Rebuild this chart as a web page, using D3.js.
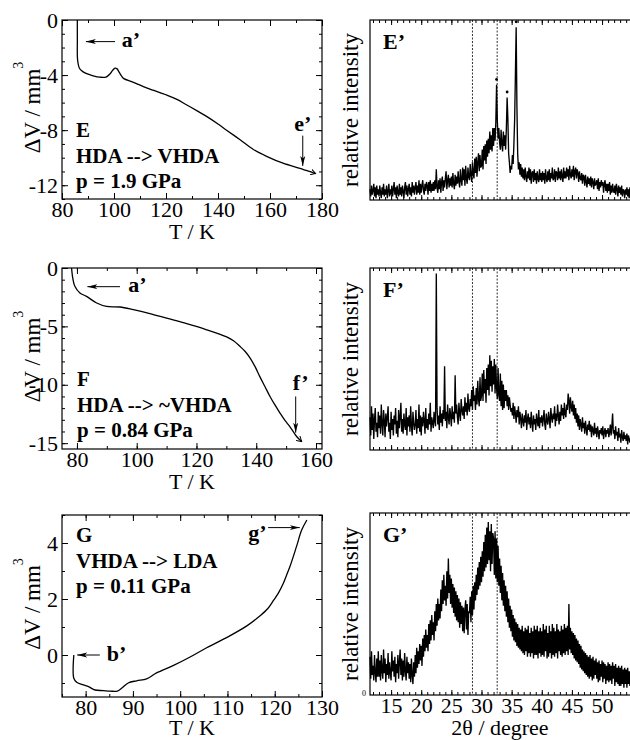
<!DOCTYPE html>
<html>
<head>
<meta charset="utf-8">
<script src="https://cdn.jsdelivr.net/npm/d3@7"></script>
<style>
body { margin: 0; background: #fff; }
svg text { font-family: "Liberation Serif", "Times New Roman", serif; fill: #000; }
</style>
</head>
<body>
<svg id="chart" width="630" height="740"></svg>
<script>
// volume curves, [T (K), dV (mm^3)]
const eCurve = [[85.9,0],[85.9,-1.5],[86.0,-2.9],[86.7,-3.5],[88,-3.75],[89.5,-3.9],[92,-4.05],[94.6,-4.15],[96.9,-4.15],
  [98.5,-3.9],[99.5,-3.65],[100.4,-3.5],[101.2,-3.55],[101.7,-3.7],[103,-4.1],[103.8,-4.26],[107,-4.5],[111.3,-4.84],
  [115,-5.1],[120.3,-5.45],[124,-5.75],[128,-6.17],[132,-6.6],[135.6,-7.0],[140,-7.55],[143.3,-8.0],[148.5,-8.7],
  [153.6,-9.4],[158.7,-9.9],[165,-10.4],[171.5,-10.77],[176.7,-11.1],[177.5,-11.15]];
const fCurve = [[78.2,0],[78.4,-0.5],[78.6,-0.86],[79.3,-1.57],[81,-2.14],[83.2,-2.43],[86.6,-3.0],[89.9,-3.29],[94.4,-3.34],
  [98.9,-3.57],[104.4,-3.9],[110,-4.3],[116.7,-4.77],[123.4,-5.29],[130.1,-5.9],[132.5,-6.25],[134.5,-6.7],[136.3,-7.15],
  [137.9,-7.7],[139.6,-8.45],[141.2,-9.3],[142.9,-10.15],[144.6,-11.0],[146.3,-11.75],[147.9,-12.4],[149.6,-13.05],
  [151.3,-13.6],[153.5,-14.43],[155.2,-14.86]];
const gCurve = [[77.5,0],[77.5,-0.83],[78.1,-0.97],[79.5,-1.07],[80.6,-1.13],[82,-1.25],[83.7,-1.27],[85.2,-1.29],[86.7,-1.29],
  [87.6,-1.19],[89,-1.0],[90.8,-0.92],[92.9,-0.85],[95,-0.64],[98.6,-0.37],[102.1,-0.07],[105.6,0.26],[109.8,0.62],
  [114.1,1.04],[116.9,1.4],[118.5,1.65],[119.7,1.94],[120.8,2.22],[121.8,2.55],[122.5,2.85],[123.2,3.15],[124.6,3.87],
  [125.7,4.46],[126.8,4.82]];

const panelNames = ["E", "F", "G"];
const transitions = ["HDA --> VHDA", "HDA --> ~VHDA", "VHDA --> LDA"];
const pressures = ["p = 1.9 GPa", "p = 0.84 GPa", "p = 0.11 GPa"];

// diffraction patterns: relative intensity every 0.125 deg from 11.5 deg
// (one row per degree, first row is 11.5-11.875)
const xrdStart = 11.5, xrdStep = 0.125;
const eXrd = [6,2,8,3,
  5,9,2,7,1,8,3,6, 2,8,4,1,7,3,9,2, 6,3,8,1,5,9,2,6, 3,8,2,6,10,3,7,1,
  8,4,2,9,3,7,2,8, 5,1,7,10,3,8,2,6, 9,3,7,2,10,4,8,3, 7,10,3,8,4,11,3,9,
  4,8,11,5,3,9,5,10, 8,3,10,5,11,4,9,5, 10,5,11,6,17,7,4,11, 6,12,4,10,13,5,11,7,
  12,16,6,11,14,7,12,8, 13,7,15,9,6,14,8,13, 9,16,10,7,17,11,8,18, 11,17,8,19,12,9,18,13,
  11,20,14,10,21,15,12,23, 15,24,13,21,26,16,25,18, 19,28,17,30,22,31,20,33, 24,34,26,38,28,36,27,40,
  30,40,33,43,64,44,34,40, 32,28,39,31,27,38,30,36, 28,40,57,45,26,21,15,19, 17,25,20,31,45,70,96,52,
  26,17,21,14,20,13,18,12, 17,11,18,13,10,16,12,18, 11,17,9,15,16,10,17,11, 15,9,16,12,10,17,11,15,
  10,16,11,15,9,17,12,10, 16,11,17,10,15,12,18,11, 12,17,10,16,15,11,18,12, 16,11,17,13,10,18,12,16,
  12,18,13,17,11,19,14,12, 17,13,19,11,16,18,12,17, 15,10,16,12,11,15,9,14, 13,8,14,10,7,13,9,12,
  8,13,7,12,10,6,12,8, 9,11,6,12,5,10,7,11, 8,10,4,9,11,5,9,4, 9,5,10,3,8,4,9,5,
  4,8,3,9,6,2,8,4, 7,3,8,2,6,5,1,6, 3,7,2,6,1,7,4,2];
const fXrd = [18,8,24,11,
  20,6,17,23,10,15,7,21, 12,19,9,25,14,8,22,16, 7,20,13,18,24,10,15,6, 21,11,17,8,19,14,23,9,
  16,7,22,12,18,26,10,17, 9,20,14,11,23,8,18,13, 19,10,24,13,8,21,15,11, 14,22,9,17,12,25,10,19,
  8,18,13,21,16,9,23,12, 17,11,20,14,26,10,18,15, 12,21,16,13,97,23,14,19, 11,24,15,20,13,22,17,46,
  16,21,12,25,18,14,23,19, 13,24,17,21,15,41,20,25, 18,14,26,20,16,28,22,19, 24,17,29,21,26,19,31,23,
  21,28,24,33,22,35,27,30, 22,34,25,38,28,24,40,27, 30,42,27,44,31,39,26,45, 33,47,30,52,35,49,32,46,
  36,50,31,47,34,28,45,30, 27,42,24,38,22,36,23,33, 27,33,24,30,22,29,25,21, 23,19,26,17,24,20,15,22,
  18,24,14,21,17,12,20,16, 13,19,15,22,11,17,20,14, 18,12,21,15,10,19,14,17, 11,20,16,13,22,12,18,15,
  19,13,17,22,14,11,20,16, 14,21,17,12,23,18,15,20, 17,24,13,20,16,25,19,14, 21,16,25,19,23,17,26,20,
  18,25,22,31,27,20,29,24, 21,27,19,25,17,23,15,20, 13,19,11,17,14,10,18,12, 15,9,16,12,8,14,11,16,
  10,14,7,13,11,8,15,9, 12,7,13,10,6,11,9,12, 8,13,6,10,12,7,11,9, 12,7,10,14,8,13,20,9,
  11,6,13,8,10,5,12,7, 9,4,11,7,5,10,6,8, 5,9,3,8,6,4,7,5];
const gXrd = [21,9,24,11,
  16,8,22,12,7,20,10,24, 10,19,8,22,13,9,25,12, 20,7,17,11,23,9,18,12, 8,24,13,19,10,21,7,17,
  12,22,9,18,25,11,20,8, 19,10,23,13,8,21,12,18, 9,17,7,20,11,6,18,10, 22,12,26,15,24,17,28,19,
  27,16,31,21,33,24,36,26, 33,24,39,28,41,30,44,33, 40,30,46,35,50,38,53,41, 50,42,58,46,63,50,66,52,
  60,49,68,53,75,56,66,50, 64,48,61,45,59,43,57,41, 55,40,53,37,51,39,49,35, 48,34,47,52,36,50,33,46,
  45,54,40,57,44,60,47,62, 52,66,55,70,58,73,60,76, 62,79,65,84,68,88,70,92, 72,95,74,90,68,94,72,89,
  86,66,90,64,86,62,82,60, 75,56,71,52,67,49,63,46, 60,43,57,40,53,37,49,35, 47,32,44,30,42,29,40,27,
  39,26,37,25,36,24,38,23, 35,22,37,24,36,21,38,23, 34,21,37,23,35,20,38,22, 36,22,38,20,35,23,37,21,
  35,22,39,21,36,24,38,20, 34,21,38,23,35,20,39,22, 37,21,35,23,39,20,36,24, 35,22,38,21,36,23,39,22,
  37,24,38,22,50,25,37,23, 35,22,34,20,33,19,31,18, 30,17,28,15,27,14,25,13, 24,12,23,11,22,10,21,9,
  22,10,20,8,21,9,19,11, 20,9,18,7,19,8,17,10, 19,7,18,9,17,6,16,8, 18,7,17,8,16,6,18,9,
  16,5,17,7,15,6,16,5, 15,5,16,6,14,4,15,6, 14,4,15,6,13,5,14,4];
const eDots = [[32.5, 67], [34.25, 60], [35.75, 99]];
const refLines = [28.5, 32.6];
const xrdMajor = [15, 20, 25, 30, 35, 40, 45, 50, 55];
const xrdLabels = [15, 20, 25, 30, 35, 40, 45, 50];
const xrdMinor = d3.range(12, 56, 1);

const svg = d3.select("#chart");
const defs = svg.append("defs");
defs.append("marker").attr("id", "arr").attr("viewBox", "0 0 10 6")
  .attr("refX", 10).attr("refY", 3).attr("markerWidth", 10).attr("markerHeight", 6)
  .attr("markerUnits", "userSpaceOnUse").attr("orient", "auto")
  .append("path").attr("d", "M0,0.5 L10,3 L0,5.5 L2.5,3 Z").attr("fill", "#000");
defs.append("marker").attr("id", "chev").attr("viewBox", "0 0 6 6")
  .attr("refX", 5).attr("refY", 3).attr("markerWidth", 6).attr("markerHeight", 6)
  .attr("markerUnits", "userSpaceOnUse").attr("orient", "auto")
  .append("path").attr("d", "M0,0 L5,3 L0,6").attr("fill", "none").attr("stroke", "#000");

const volPanels = [
  { data: eCurve, y0: 20, y1: 199, xd: [80, 180], yd: [-13, 0], xt: d3.range(80, 181, 20), xm: d3.range(80, 181, 10),
    yt: [0, -4, -8, -12], ym: d3.range(-13, 1, 1), endArrow: true, tx: 14, ty: 117, tk: 40,
    arrows: [[[100.4, -1.57], [89.2, -1.57]], [[172.6, -8.4], [172.6, -10.6]]],
    notes: [["a’", 103, -1.95], ["e’", 169.3, -8.05]] },
  { data: fCurve, y0: 268, y1: 449, xd: [75, 162], yd: [-15.5, 0], xt: d3.range(80, 161, 20), xm: d3.range(80, 161, 10),
    yt: [0, -5, -10, -15], ym: d3.range(-15, 1, 1), endArrow: true, tx: 15, ty: 118, tk: 40,
    arrows: [[[94.4, -1.6], [83.5, -1.6]], [[153.2, -11.0], [153.2, -14.1]]],
    notes: [["a’", 97.2, -2.03], ["f’", 152.2, -10.45]] },
  { data: gCurve, y0: 515, y1: 697, xd: [75, 130], yd: [-1.5, 5], xt: d3.range(80, 131, 10), xm: d3.range(75, 131, 5),
    yt: [0, 2, 4], ym: d3.range(-1, 6, 1), endArrow: false, tx: 14, ty: 27, tk: 38,
    arrows: [[[118.6, 4.55], [125.3, 4.55]], [[83, 0], [78.2, 0]]],
    notes: [["g’", 114.4, 4.1], ["b’", 84.45, -0.22]] }
];

function clean(g, size) {
  g.select(".domain").remove();
  g.selectAll("line").attr("stroke", "#000");
  g.selectAll("text").style("font-size", size).attr("fill", "#000");
}

volPanels.forEach((p, k) => {
  const x = d3.scaleLinear().domain(p.xd).range([62, 322]);
  const y = d3.scaleLinear().domain(p.yd).range([p.y1, p.y0]);
  const g = svg.append("g");
  const fmt = d => String(d);

  g.append("g").attr("transform", `translate(0,${p.y1})`)
    .call(d3.axisBottom(x).tickValues(p.xt).tickFormat(fmt).tickSizeInner(-6).tickSizeOuter(0).tickPadding(2))
    .call(s => clean(s, "22px"));
  g.append("g").attr("transform", `translate(0,${p.y1})`)
    .call(d3.axisBottom(x).tickValues(p.xm).tickFormat("").tickSizeInner(-3).tickSizeOuter(0)).call(s => clean(s));
  g.append("g").attr("transform", `translate(0,${p.y0})`)
    .call(d3.axisTop(x).tickValues(p.xt).tickFormat("").tickSizeInner(-6).tickSizeOuter(0)).call(s => clean(s));
  g.append("g").attr("transform", `translate(0,${p.y0})`)
    .call(d3.axisTop(x).tickValues(p.xm).tickFormat("").tickSizeInner(-3).tickSizeOuter(0)).call(s => clean(s));
  g.append("g").attr("transform", "translate(62,0)")
    .call(d3.axisLeft(y).tickValues(p.yt).tickFormat(fmt).tickSizeInner(-6).tickSizeOuter(0).tickPadding(4))
    .call(s => clean(s, "22px"));
  g.append("g").attr("transform", "translate(62,0)")
    .call(d3.axisLeft(y).tickValues(p.ym).tickFormat("").tickSizeInner(-3).tickSizeOuter(0)).call(s => clean(s));
  g.append("g").attr("transform", "translate(322,0)")
    .call(d3.axisRight(y).tickValues(p.yt).tickFormat("").tickSizeInner(-6).tickSizeOuter(0)).call(s => clean(s));
  g.append("g").attr("transform", "translate(322,0)")
    .call(d3.axisRight(y).tickValues(p.ym).tickFormat("").tickSizeInner(-3).tickSizeOuter(0)).call(s => clean(s));

  g.append("rect").attr("x", 62).attr("y", p.y0).attr("width", 260).attr("height", p.y1 - p.y0)
    .attr("fill", "none").attr("stroke", "#000").attr("stroke-width", 1.2);

  const line = d3.line().x(d => x(d[0])).y(d => y(d[1])).curve(d3.curveCatmullRom.alpha(0.5));
  const path = g.append("path").datum(p.data).attr("d", line)
    .attr("fill", "none").attr("stroke", "#000").attr("stroke-width", 1.3);
  if (p.endArrow) path.attr("marker-end", "url(#chev)");

  p.arrows.forEach(a => {
    g.append("line").attr("x1", x(a[0][0])).attr("y1", y(a[0][1])).attr("x2", x(a[1][0])).attr("y2", y(a[1][1]))
      .attr("stroke", "#000").attr("stroke-width", 1).attr("marker-end", "url(#arr)");
  });
  p.notes.forEach(n => {
    g.append("text").attr("x", x(n[1])).attr("y", y(n[2])).text(n[0])
      .style("font-size", "22px").style("font-weight", "bold");
  });

  [panelNames[k], transitions[k], pressures[k]].forEach((t, j) => {
    g.append("text").attr("x", 62 + p.tx).attr("y", p.y0 + p.ty + j * 25.5).text(t)
      .style("font-size", "21px").style("font-weight", "bold");
  });

  const cy = (p.y0 + p.y1) / 2;
  const lab = g.append("text").attr("transform", `translate(40,${cy - 2}) rotate(-90)`)
    .attr("text-anchor", "middle").style("font-size", "23px");
  lab.append("tspan").text("ΔV / mm");
  lab.append("tspan").attr("dy", -17).style("font-size", "14px").text("3");

  g.append("text").attr("x", 192).attr("y", p.y1 + p.tk).attr("text-anchor", "middle")
    .style("font-size", "22px").text("T / K");
});

const xrdPanels = [
  { data: eXrd, y0: 20, y1: 200, name: "E’", dots: eDots, labels: false },
  { data: fXrd, y0: 268, y1: 450, name: "F’", dots: [], labels: false },
  { data: gXrd, y0: 513, y1: 695, name: "G’", dots: [], labels: true }
];

const x2 = d3.scaleLinear().domain([11.5, 55.3]).range([370, 634]);

xrdPanels.forEach(p => {
  const y = d3.scaleLinear().domain([0, 100]).range([p.y1, p.y0]);
  const g = svg.append("g");

  g.append("g").attr("transform", `translate(0,${p.y1})`)
    .call(d3.axisBottom(x2).tickValues(xrdMajor).tickFormat(d => (p.labels && xrdLabels.includes(d)) ? String(d) : "")
      .tickSizeInner(-5).tickSizeOuter(0).tickPadding(2))
    .call(s => clean(s, "22px"));
  g.append("g").attr("transform", `translate(0,${p.y1})`)
    .call(d3.axisBottom(x2).tickValues(xrdMinor).tickFormat("").tickSizeInner(-3).tickSizeOuter(0)).call(s => clean(s));
  g.append("g").attr("transform", `translate(0,${p.y0})`)
    .call(d3.axisTop(x2).tickValues(xrdMajor).tickFormat("").tickSizeInner(-5).tickSizeOuter(0)).call(s => clean(s));
  g.append("g").attr("transform", `translate(0,${p.y0})`)
    .call(d3.axisTop(x2).tickValues(xrdMinor).tickFormat("").tickSizeInner(-3).tickSizeOuter(0)).call(s => clean(s));

  refLines.forEach(v => {
    g.append("line").attr("x1", x2(v)).attr("x2", x2(v)).attr("y1", p.y0).attr("y2", p.y1)
      .attr("stroke", "#333").attr("stroke-width", 1).attr("stroke-dasharray", "2,1.5");
  });

  const line = d3.line().x((d, i) => x2(xrdStart + i * xrdStep)).y(d => y(d));
  g.append("path").datum(p.data).attr("d", line)
    .attr("fill", "none").attr("stroke", "#000").attr("stroke-width", 1.35);

  g.selectAll("circle").data(p.dots).join("circle")
    .attr("cx", d => x2(d[0])).attr("cy", d => y(d[1])).attr("r", 1.4).attr("fill", "#000");

  g.append("rect").attr("x", 370).attr("y", p.y0).attr("width", 264).attr("height", p.y1 - p.y0)
    .attr("fill", "none").attr("stroke", "#000").attr("stroke-width", 1.2);

  g.append("text").attr("x", 383).attr("y", p.y0 + 29).text(p.name)
    .style("font-size", "22px").style("font-weight", "bold");

  g.append("text").attr("transform", `translate(358,${(p.y0 + p.y1) / 2}) rotate(-90)`)
    .attr("text-anchor", "middle").style("font-size", "23px").text("relative intensity");

  if (p.labels) {
    g.append("text").attr("x", 366).attr("y", p.y1 + 1).attr("text-anchor", "end")
      .style("font-size", "8px").text("0");
    g.append("text").attr("x", 500).attr("y", p.y1 + 40).attr("text-anchor", "middle")
      .style("font-size", "22px").text("2θ / degree");
  }
});
</script>
</body>
</html>
